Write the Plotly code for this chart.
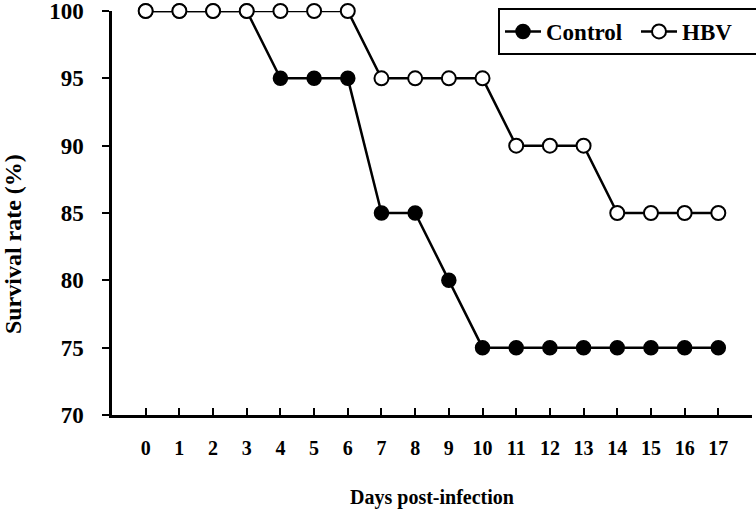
import plotly.graph_objects as go

days = list(range(18))
control = [100, 100, 100, 100, 95, 95, 95, 85, 85, 80, 75, 75, 75, 75, 75, 75, 75, 75]
hbv = [100, 100, 100, 100, 100, 100, 100, 95, 95, 95, 95, 90, 90, 90, 85, 85, 85, 85]
x_ticks = list(range(19))
x_tick_text = [str(d) for d in days] + [""]
y_ticks = [70, 75, 80, 85, 90, 95, 100]

FONT = "Liberation Serif"

fig = go.Figure()
fig.add_trace(go.Scatter(
    x=days, y=control, name="<b>Control</b>", mode="lines+markers",
    line=dict(color="black", width=2.5), cliponaxis=False,
    marker=dict(symbol="circle", size=14, color="black", line=dict(color="black", width=1.5)),
))
fig.add_trace(go.Scatter(
    x=days, y=hbv, name="<b>HBV</b>", mode="lines+markers",
    line=dict(color="black", width=2.5), cliponaxis=False,
    marker=dict(symbol="circle", size=14, color="white", line=dict(color="black", width=2)),
))

fig.update_layout(
    width=756, height=512,
    margin=dict(l=112, r=4, t=11, b=97, autoexpand=False),
    paper_bgcolor="white", plot_bgcolor="white",
    font=dict(family=FONT, size=19, color="black"),
    showlegend=True,
    legend=dict(
        orientation="h", x=(498 - 112) / 640, xanchor="left", y=1.0074, yanchor="top",
        bordercolor="black", borderwidth=2, bgcolor="white",
        font=dict(family=FONT, size=23, color="black"),
        itemwidth=36, tracegroupgap=0, entrywidth=85, entrywidthmode="pixels",
    ),
    xaxis=dict(
        range=[-1, 18], tickmode="array", tickvals=x_ticks, ticktext=x_tick_text,
        showline=True, linecolor="black", linewidth=2.5, automargin=False,
        ticks="inside", ticklen=7, tickwidth=2, tickcolor="black",
        showgrid=False, zeroline=False,
        tickfont=dict(family=FONT, size=20, weight="bold"),
        ticklabelstandoff=13,
        title=dict(text="<b>Days post-infection</b>", font=dict(family=FONT, size=20), standoff=33),
    ),
    yaxis=dict(
        range=[70, 100], tickmode="array", tickvals=y_ticks,
        showline=True, linecolor="black", linewidth=2.5, automargin=False,
        ticks="outside", ticklen=7, tickwidth=2, tickcolor="black",
        showgrid=False, zeroline=False,
        tickfont=dict(family=FONT, size=23, weight="bold"),
        ticklabelstandoff=14, ticklabeloverflow="allow",
    ),
    annotations=[dict(
        text="<b>Survival rate (%)</b>", xref="paper", yref="paper",
        x=-99 / 640, y=0.423, xanchor="center", yanchor="middle",
        textangle=-90, showarrow=False,
        font=dict(family=FONT, size=24, color="black"),
    )],
)

# remove the browser's default 8px page margin so the figure fills the window
fig.write_html(
    "out.html",
    config={"displayModeBar": False},
    post_script="document.body.style.margin='0';document.body.style.overflow='hidden';",
)
